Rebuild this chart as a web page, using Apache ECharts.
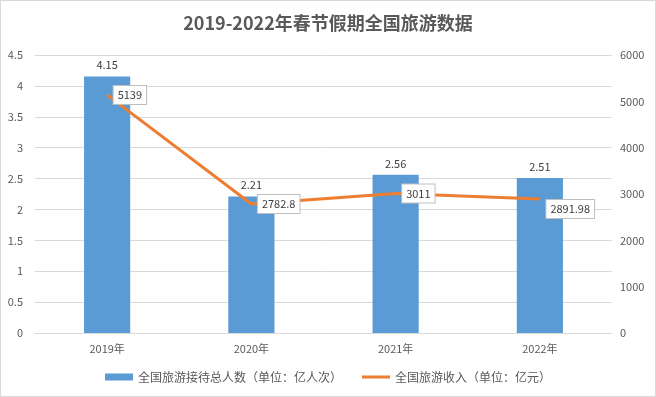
<!DOCTYPE html>
<html>
<head>
<meta charset="utf-8">
<script src="https://cdn.jsdelivr.net/npm/echarts@6/dist/echarts.min.js"></script>
<style>
  html, body { margin: 0; padding: 0; background: #fff; }
  #chart { width: 654px; height: 395px; border: 1px solid #d9d9d9; }
</style>
</head>
<body>
<div id="chart"></div>
<script>
// 数据
const years = ['2019年', '2020年', '2021年', '2022年'];
const visitors = [4.15, 2.21, 2.56, 2.51];       // 亿人次
const income = [5139, 2782.8, 3011, 2891.98];    // 亿元

const chart = echarts.init(document.getElementById('chart'));
const font = '"Microsoft YaHei", "Noto Sans CJK SC", sans-serif';

chart.setOption({
  animation: false,
  textStyle: { fontFamily: font },
  title: {
    text: '2019-2022年春节假期全国旅游数据',
    left: 'center',
    top: 8,
    textStyle: { fontSize: 18, fontWeight: 'bold', color: '#595959', fontFamily: font }
  },
  legend: {
    bottom: 8,
    itemGap: 20,
    textStyle: { color: '#595959', fontSize: 12 },
    data: [
      { name: '全国旅游接待总人数（单位：亿人次）', icon: 'rect', itemStyle: { color: '#5B9BD5' } },
      { name: '全国旅游收入（单位：亿元）', icon: 'path://M0,0 L28,0 L28,3 L0,3 Z', itemStyle: { color: '#ED7D31' } }
    ],
    itemWidth: 28,
    itemHeight: 7
  },
  grid: { left: 34, right: 43, top: 54, bottom: 63 },
  xAxis: {
    type: 'category',
    data: years,
    axisLine: { lineStyle: { color: '#d9d9d9' } },
    axisTick: { show: false },
    axisLabel: { color: '#595959', fontSize: 11, margin: 10 }
  },
  yAxis: [
    {
      type: 'value', min: 0, max: 4.5, interval: 0.5,
      axisLine: { show: false }, axisTick: { show: false },
      axisLabel: { color: '#595959', fontSize: 11, margin: 12 },
      splitLine: { lineStyle: { color: '#d9d9d9' } }
    },
    {
      type: 'value', min: 0, max: 6000, interval: 1000,
      axisLine: { show: false }, axisTick: { show: false },
      axisLabel: { color: '#595959', fontSize: 11, margin: 8, formatter: v => String(v) },
      splitLine: { show: false }
    }
  ],
  series: [
    {
      name: '全国旅游接待总人数（单位：亿人次）',
      type: 'bar',
      data: visitors,
      barWidth: '32%',
      itemStyle: { color: '#5B9BD5' },
      label: { show: true, position: 'top', color: '#404040', fontSize: 11, distance: 6 }
    },
    {
      name: '全国旅游收入（单位：亿元）',
      type: 'line',
      yAxisIndex: 1,
      data: income,
      symbol: 'circle',
      symbolSize: 1,
      showSymbol: true,
      lineStyle: { color: '#ED7D31', width: 3 },
      itemStyle: { color: '#ED7D31' },
      label: {
        show: true, position: 'right', distance: 6,
        color: '#404040', fontSize: 11,
        backgroundColor: '#fff', borderColor: '#bfbfbf', borderWidth: 1,
        padding: [4, 4, 3, 4]
      },
      labelLayout: p => (p.dataIndex === income.length - 1 ? { dy: 10 } : {})
    }
  ]
});
</script>
</body>
</html>
